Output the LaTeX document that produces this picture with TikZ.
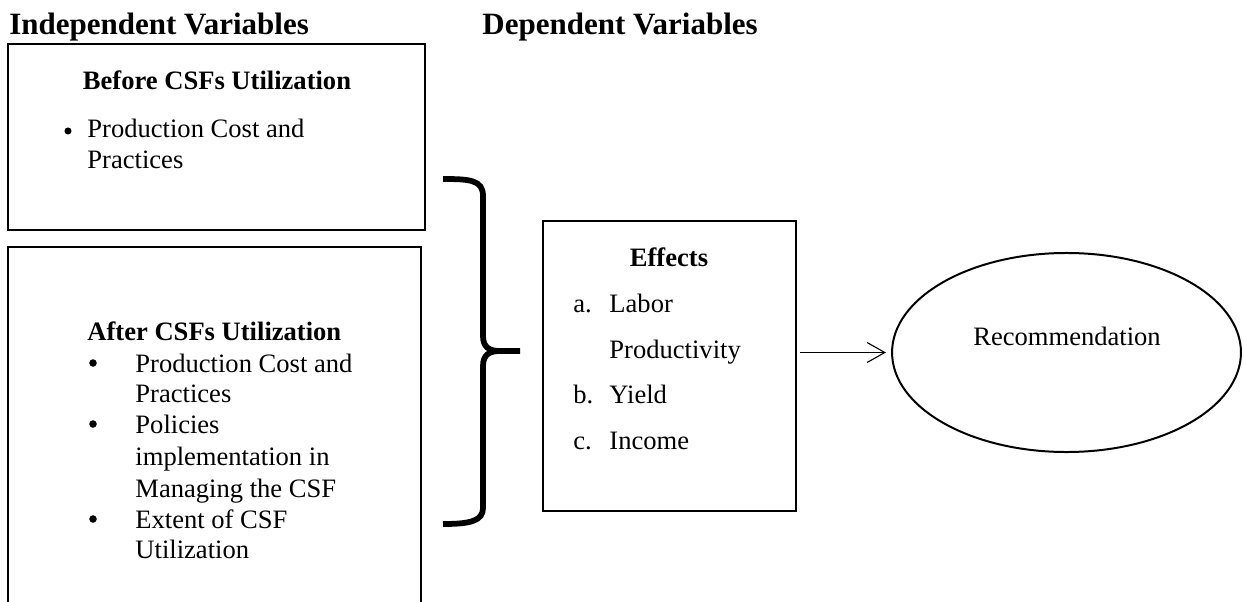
\documentclass[tikz,border=0pt]{standalone}
\usepackage{fontspec}
\setmainfont{Liberation Serif}
\usetikzlibrary{arrows.meta,shapes.geometric}
\begin{document}
\begin{tikzpicture}[x=0.4517pt,y=-0.4517pt,
  txt/.style={anchor=base west, inner sep=0pt, font=\fontsize{12}{14}\selectfont},
  ttl/.style={anchor=base west, inner sep=0pt, font=\fontsize{14}{16}\selectfont\bfseries},
  hd/.style={anchor=base, inner sep=0pt, font=\fontsize{12}{14}\selectfont\bfseries},
  box/.style={draw, line width=1.1pt, inner sep=0pt, rectangle},
  bul/.style={circle, fill=black, inner sep=0pt, minimum size=3.4pt},
  bracepath/.style={line width=2.6pt, line cap=butt},
]
\useasboundingbox (0,0) rectangle (1244,601);
\clip (0,0) rectangle (1244,601);

% titles
\node[ttl] (indep) at (9,35) {Independent Variables};
\node[ttl] (dep) at (482,35) {Dependent Variables};

% before box
\node[box, minimum width=188.4pt, minimum height=84.0pt] (before) at (216.5,137) {};
\node[hd] (beforehd) at (217,90) {Before CSFs Utilization};
\node[bul, minimum size=3.2pt] (b1) at (68,131) {};
\node[txt] (b1a) at (87,138) {Production Cost and};
\node[txt] (b1b) at (87,168) {Practices};

% after box
\node[box, minimum width=186.6pt, minimum height=177.5pt] (after) at (214.5,443.5) {};
\node[txt, font=\fontsize{12}{14}\selectfont\bfseries] (afterhd) at (87,340) {After CSFs Utilization};
\node[bul] (a1) at (93,363) {};
\node[txt] (a1a) at (135,372) {Production Cost and};
\node[txt] (a1b) at (135,402) {Practices};
\node[bul] (a2) at (93,424) {};
\node[txt] (a2a) at (135,433) {Policies};
\node[txt] (a2b) at (135,465) {implementation in};
\node[txt] (a2c) at (135,497) {Managing the CSF};
\node[bul] (a3) at (93,519) {};
\node[txt] (a3a) at (135,528) {Extent of CSF};
\node[txt] (a3b) at (135,558) {Utilization};

% brace
\draw[bracepath] (443,179) .. controls (470,179) and (483,180) .. (483,196)
  -- (483,336) .. controls (483,347) and (489,351) .. (500,351) -- (520,351);
\draw[bracepath] (500,351) .. controls (489,351) and (483,355) .. (483,366)
  -- (483,508) .. controls (483,521) and (470,524) .. (443,524);

% effects box
\node[box, line width=0.9pt, minimum width=114.3pt, minimum height=131.0pt] (eff) at (669.5,366) {};
\node[hd] (effhd) at (669,266) {Effects};
\node[txt] (ea) at (573,312) {a.};
\node[txt] (eaa) at (609,312) {Labor};
\node[txt] (eab) at (609,358) {Productivity};
\node[txt] (eb) at (573,403) {b.};
\node[txt] (eba) at (609,403) {Yield};
\node[txt] (ec) at (573,449) {c.};
\node[txt] (eca) at (609,449) {Income};

% recommendation
\node[draw, ellipse, line width=0.9pt, inner sep=0pt, minimum width=157.6pt, minimum height=89.9pt] (rec) at (1066.5,352.5) {};
\node[anchor=base, inner sep=0pt, font=\fontsize{12}{14}\selectfont] (rectext) at (1067,345) {Recommendation};

% arrow
\draw[-{Straight Barb[length=8pt,width=9pt]}, line width=0.5pt, shorten <=1.4pt, shorten >=2.3pt]
  (eff.east |- rec.west) -- (rec.west);
\end{tikzpicture}
\end{document}
